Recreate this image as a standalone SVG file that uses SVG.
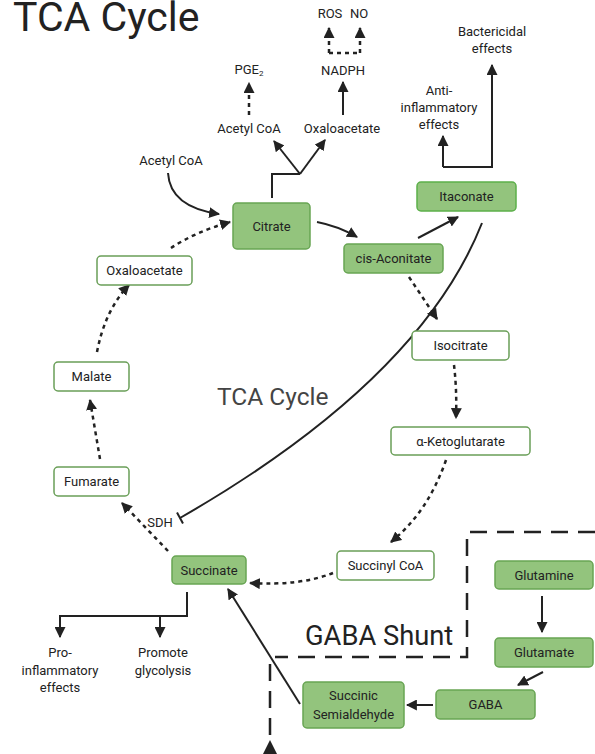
<svg xmlns="http://www.w3.org/2000/svg" width="595" height="754" viewBox="0 0 595 754">
<style>
.bg{fill:#93c47d;stroke:#68a553;stroke-width:1.5}
.bw{fill:#fff;stroke:#6a9f58;stroke-width:1.5}
.t{font-family:Roboto,"Liberation Sans",sans-serif;font-size:13px;fill:#222;text-anchor:middle}
.s{stroke:#222;stroke-width:2;fill:none}
.d{stroke:#222;stroke-width:2.5;fill:none;stroke-dasharray:4 4}
.g{stroke:#222;stroke-width:2.5;fill:none;stroke-dasharray:17 10}
</style>
<defs>
<marker id="ah" viewBox="0 0 10 10" refX="9" refY="5" markerWidth="11" markerHeight="11" markerUnits="userSpaceOnUse" orient="auto"><path d="M0,0L10,5L0,10z" fill="#222"/></marker>
<linearGradient id="gr" gradientUnits="userSpaceOnUse" x1="168" y1="173" x2="220" y2="214"><stop offset="0" stop-color="#d0d0d0"/><stop offset="1" stop-color="#222"/></linearGradient>
</defs>
<text x="13" y="31" style="font-family:Roboto,'Liberation Sans',sans-serif;font-size:41px;fill:#222">TCA Cycle</text>
<text x="217" y="405" style="font-family:Roboto,'Liberation Sans',sans-serif;font-size:24.5px;fill:#444">TCA Cycle</text>
<text x="305" y="645" style="font-family:Roboto,'Liberation Sans',sans-serif;font-size:27.3px;fill:#222">GABA Shunt</text>

<g id="connectors">
<path class="s" d="M168,173 Q170,207 219,214" stroke="url(#gr)" marker-end="url(#ah)"/>
<path class="s" d="M272,198 V174 H300"/>
<path class="s" d="M300,174 L274,141" marker-end="url(#ah)"/>
<path class="s" d="M300,174 L325,140" marker-end="url(#ah)"/>
<path class="d" d="M249,115 V83" marker-end="url(#ah)"/>
<path class="s" d="M343,115 V82" marker-end="url(#ah)"/>
<path class="d" d="M329,53 H360"/>
<path class="d" d="M329,53 V28" marker-end="url(#ah)"/>
<path class="d" d="M360,53 V28" marker-end="url(#ah)"/>
<path class="s" d="M443,167 H492 V65"/>
<path class="s" d="M492,167 V65" marker-end="url(#ah)"/>
<path class="s" d="M443,167 V136" marker-end="url(#ah)"/>
<path class="s" d="M317,222 Q338,226 357,237" marker-end="url(#ah)"/>
<path class="s" d="M418,238 L458,217" marker-end="url(#ah)"/>
<path class="s" d="M482,223 Q420,380 180,518"/>
<path class="s" d="M177,512.5 L183,523.5"/>
<path class="d" d="M409,277 L437,319" marker-end="url(#ah)"/>
<path class="d" d="M454,365 Q457,390 456,418" marker-end="url(#ah)"/>
<path class="d" d="M446,460 Q428,512 391,542" marker-end="url(#ah)"/>
<path class="d" d="M333,573 Q300,586 250,583" marker-end="url(#ah)"/>
<path class="d" d="M168,551 L122,503" marker-end="url(#ah)"/>
<path class="d" d="M100,459 L90,400" marker-end="url(#ah)"/>
<path class="d" d="M97,352 Q105,310 129,285" marker-end="url(#ah)"/>
<path class="d" d="M171,248 Q195,232 230,222" marker-end="url(#ah)"/>
<path class="s" d="M187,592 V616 H60"/>
<path class="s" d="M60,615 V637" marker-end="url(#ah)"/>
<path class="s" d="M160,616 V637" marker-end="url(#ah)"/>
<path class="s" d="M300,704 L228,589" marker-end="url(#ah)"/>
<path class="s" d="M542,596 V632" marker-end="url(#ah)"/>
<path class="s" d="M543,672 L518,685" marker-end="url(#ah)"/>
<path class="s" d="M433,705 H407" marker-end="url(#ah)"/>
<path class="g" d="M595,532 H467 V657 H275"/>
<path class="g" d="M270,664 V735"/>
<path d="M270,740 L277,754 L263,754z" fill="#222"/>
</g>

<g id="pge2"><text class="t" x="249" y="74">PGE<tspan font-size="8" dy="2">2</tspan></text></g>
<g id="acetylcoa-top"><text class="t" x="249" y="133">Acetyl CoA</text></g>
<g id="oxaloacetate-top"><text class="t" x="342" y="133">Oxaloacetate</text></g>
<g id="nadph"><text class="t" x="343" y="75">NADPH</text></g>
<g id="ros"><text class="t" x="330" y="18">ROS</text></g>
<g id="no"><text class="t" x="359" y="18">NO</text></g>
<g id="bactericidal"><text class="t" x="492" y="36">Bactericidal</text><text class="t" x="492" y="53">effects</text></g>
<g id="antiinflammatory"><text class="t" x="439" y="95">Anti-</text><text class="t" x="439" y="112">inflammatory</text><text class="t" x="439" y="129">effects</text></g>
<g id="acetylcoa-left"><text class="t" x="171" y="165">Acetyl CoA</text></g>
<g id="sdh"><text class="t" x="160" y="527">SDH</text></g>
<g id="proinflammatory"><text class="t" x="60" y="657">Pro-</text><text class="t" x="60" y="675">inflammatory</text><text class="t" x="60" y="692">effects</text></g>
<g id="glycolysis"><text class="t" x="163" y="657">Promote</text><text class="t" x="163" y="675">glycolysis</text></g>

<g id="citrate"><rect class="bg" x="233" y="203" width="77" height="46" rx="4"/><text class="t" x="271.5" y="230.5">Citrate</text></g>
<g id="itaconate"><rect class="bg" x="417" y="182" width="99" height="29" rx="4" style="stroke:#5cb04a"/><text class="t" x="466.5" y="201">Itaconate</text></g>
<g id="cisaconitate"><rect class="bg" x="344" y="244" width="99" height="29" rx="4"/><text class="t" x="393.5" y="263">cis-Aconitate</text></g>
<g id="isocitrate"><rect class="bw" x="412" y="331" width="97" height="29" rx="4"/><text class="t" x="460.5" y="350">Isocitrate</text></g>
<g id="aketoglutarate"><rect class="bw" x="391" y="427" width="139" height="28" rx="4"/><text class="t" x="460.5" y="445.5">α-Ketoglutarate</text></g>
<g id="succinylcoa"><rect class="bw" x="337" y="551" width="97" height="29" rx="4"/><text class="t" x="385.5" y="570">Succinyl CoA</text></g>
<g id="succinate"><rect class="bg" x="172" y="556" width="74" height="28" rx="4"/><text class="t" x="209" y="574.5">Succinate</text></g>
<g id="fumarate"><rect class="bw" x="54" y="467" width="75" height="29" rx="4"/><text class="t" x="91.5" y="486">Fumarate</text></g>
<g id="malate"><rect class="bw" x="54" y="362" width="75" height="29" rx="4"/><text class="t" x="91.5" y="381">Malate</text></g>
<g id="oxaloacetate"><rect class="bw" x="97" y="256" width="95" height="29" rx="4"/><text class="t" x="144.5" y="275">Oxaloacetate</text></g>
<g id="glutamine"><rect class="bg" x="495" y="561" width="98" height="28" rx="4"/><text class="t" x="544" y="579.5">Glutamine</text></g>
<g id="glutamate"><rect class="bg" x="495" y="638" width="98" height="29" rx="4"/><text class="t" x="544" y="657">Glutamate</text></g>
<g id="gaba"><rect class="bg" x="436" y="690" width="99" height="29" rx="4"/><text class="t" x="485.5" y="709">GABA</text></g>
<g id="succinicsemialdehyde"><rect class="bg" x="303" y="682" width="101" height="46" rx="4"/><text class="t" x="353.5" y="700">Succinic</text><text class="t" x="353.5" y="719">Semialdehyde</text></g>
</svg>
